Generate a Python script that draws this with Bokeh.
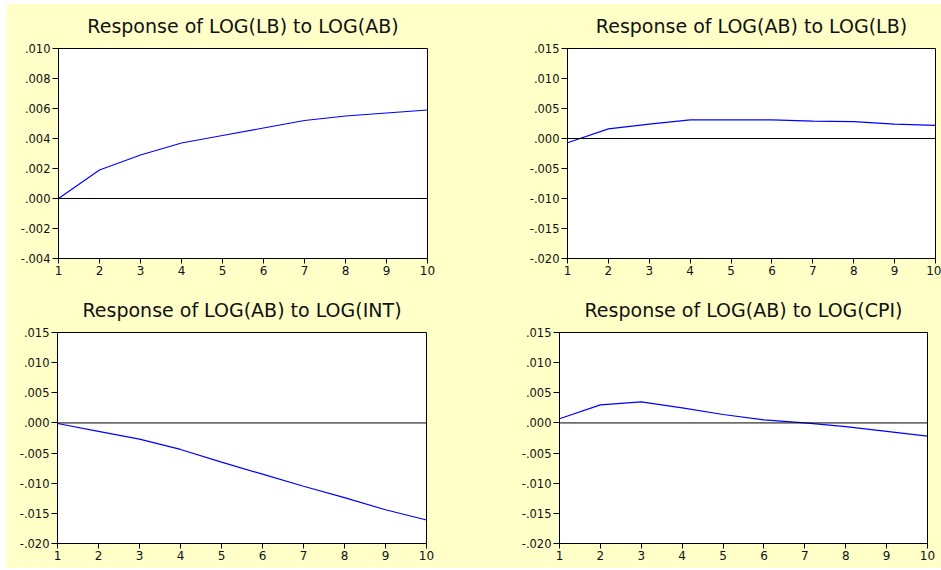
from bokeh.plotting import figure
from bokeh.layouts import column, row
from bokeh.models import Range1d, FixedTicker, CustomJSTickFormatter, Span, Title
from bokeh.embed import file_html
from bokeh.resources import INLINE

# ---- data ----
periods = [1, 2, 3, 4, 5, 6, 7, 8, 9, 10]

titles = [
    "Response of LOG(LB) to LOG(AB)",
    "Response of LOG(AB) to LOG(LB)",
    "Response of LOG(AB) to LOG(INT)",
    "Response of LOG(AB) to LOG(CPI)",
]

lb_to_ab = [0.0000, 0.0019, 0.0029, 0.0037, 0.0042, 0.0047, 0.0052, 0.0055, 0.0057, 0.0059]
ab_to_lb = [-0.0007, 0.0016, 0.0024, 0.0031, 0.0031, 0.0031, 0.0029, 0.0028, 0.0024, 0.0022]
ab_to_int = [-0.0001, -0.0014, -0.0027, -0.0044, -0.0065, -0.0085, -0.0105, -0.0124, -0.0144, -0.0161]
ab_to_cpi = [0.0007, 0.0030, 0.0035, 0.0025, 0.0014, 0.0005, 0.0000, -0.0006, -0.0014, -0.0022]

yticks_small = [-0.004, -0.002, 0.0, 0.002, 0.004, 0.006, 0.008, 0.010]
yticks_large = [-0.020, -0.015, -0.010, -0.005, 0.0, 0.005, 0.010, 0.015]

YELLOW = "#FFFFC8"
TXT = "#111111"
FONT = "DejaVu Sans"

fmt_code = """
let s = Math.abs(tick).toFixed(3);
if (s.startsWith('0')) { s = s.substring(1); }
return (tick < -1e-12 ? '-' : '') + s;
"""


def make_panel(title, values, yticks, width, height, ml, mr, mt, mb):
    p = figure(
        width=width, height=height,
        x_range=Range1d(1, 10), y_range=Range1d(yticks[0], yticks[-1]),
        output_backend="svg", toolbar_location=None,
        min_border_left=ml, min_border_right=mr,
        min_border_top=mt, min_border_bottom=mb,
        title=None,
    )
    p.add_layout(Title(text=title, align="center", vertical_align="top",
                       text_font=FONT, text_font_size="19px",
                       text_font_style="normal", text_color=TXT, standoff=19), "above")

    p.background_fill_color = "white"
    p.border_fill_color = YELLOW
    p.outline_line_color = "black"
    p.outline_line_width = 1
    p.outline_line_alpha = 1.0
    p.xgrid.visible = False
    p.ygrid.visible = False

    p.add_layout(Span(location=0, dimension="width", line_color="black", line_width=1))
    p.line(periods, values, line_color="#0000FF", line_width=1.2)

    xa = p.xaxis[0]
    xa.ticker = FixedTicker(ticks=periods)
    xa.major_tick_out = 5
    xa.major_tick_in = 0
    xa.minor_tick_out = 0
    xa.minor_tick_in = 0
    xa.axis_line_color = "black"
    xa.major_tick_line_color = "black"
    xa.major_label_text_font = FONT
    xa.major_label_text_font_size = "12px"
    xa.major_label_text_color = TXT
    xa.major_label_standoff = 2

    ya = p.yaxis[0]
    ya.ticker = FixedTicker(ticks=yticks)
    ya.formatter = CustomJSTickFormatter(code=fmt_code)
    ya.major_tick_out = 6
    ya.major_tick_in = 0
    ya.minor_tick_out = 0
    ya.minor_tick_in = 0
    ya.axis_line_color = "black"
    ya.major_tick_line_color = "black"
    ya.major_label_text_font = FONT
    ya.major_label_text_font_size = "11.5px"
    ya.major_label_text_color = TXT
    ya.major_label_standoff = 2
    return p


p1 = make_panel(titles[0], lb_to_ab, yticks_small, 473, 283, 51, 53, 44, 28)
p2 = make_panel(titles[1], ab_to_lb, yticks_large, 461, 283, 87, 6, 43, 29)
p3 = make_panel(titles[2], ab_to_int, yticks_large, 473, 281, 50, 54, 44, 25)
p4 = make_panel(titles[3], ab_to_cpi, yticks_large, 461, 281, 79, 14, 45, 25)

layout = column(
    row(p1, p2, spacing=0, styles={"background-color": YELLOW}),
    row(p3, p4, spacing=0, styles={"background-color": YELLOW}),
    spacing=0, margin=(4, 0, 0, 7),
    styles={"background-color": YELLOW},
)

open("out.html", "w").write(file_html(layout, INLINE))
